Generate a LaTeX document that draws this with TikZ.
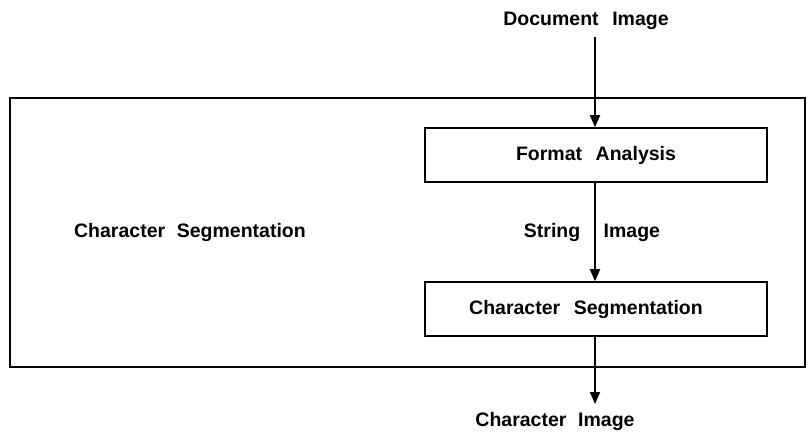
\documentclass[tikz,border=0pt]{standalone}
\usepackage{fontspec}
\setmainfont{Liberation Sans}
\usetikzlibrary{arrows.meta}
\begin{document}
\begin{tikzpicture}[x=1pt,y=-1pt,
  lbl/.style={font=\fontsize{19.5}{22}\selectfont\bfseries, inner sep=0pt},
  procbox/.style={draw, line width=1.6pt, minimum width=342pt, minimum height=54pt, font=\fontsize{19.5}{22}\selectfont\bfseries, inner sep=0pt},
  flow/.style={line width=1.8pt, -{Triangle[length=12pt,width=10pt]}}]
\useasboundingbox (0,0) rectangle (809,440);
\draw[line width=1.8pt] (10,98) rectangle (805,367);
\node[lbl] (doc) at (586,21) {Document\hspace{0.7em}Image};
\node[procbox] (fa) at (596,155) {Format\hspace{0.7em}Analysis};
\node[procbox] (cs) at (596,309) {\hspace*{-20pt}Character\hspace{0.7em}Segmentation};
\node[lbl] (si) at (592,232) {String\hspace{1.2em}Image};
\node[lbl] (ci) at (555,421) {Character\hspace{0.6em}Image};
\node[lbl] (lc) at (190,232) {Character\hspace{0.6em}Segmentation};
\coordinate (dtop) at (595,37);
\coordinate (cend) at (595,404);
\draw[flow] (dtop) -- (dtop |- fa.north);
\draw[flow] (fa.south -| dtop) -- (cs.north -| dtop);
\draw[flow] (cs.south -| dtop) -- (cend);
\end{tikzpicture}
\end{document}
